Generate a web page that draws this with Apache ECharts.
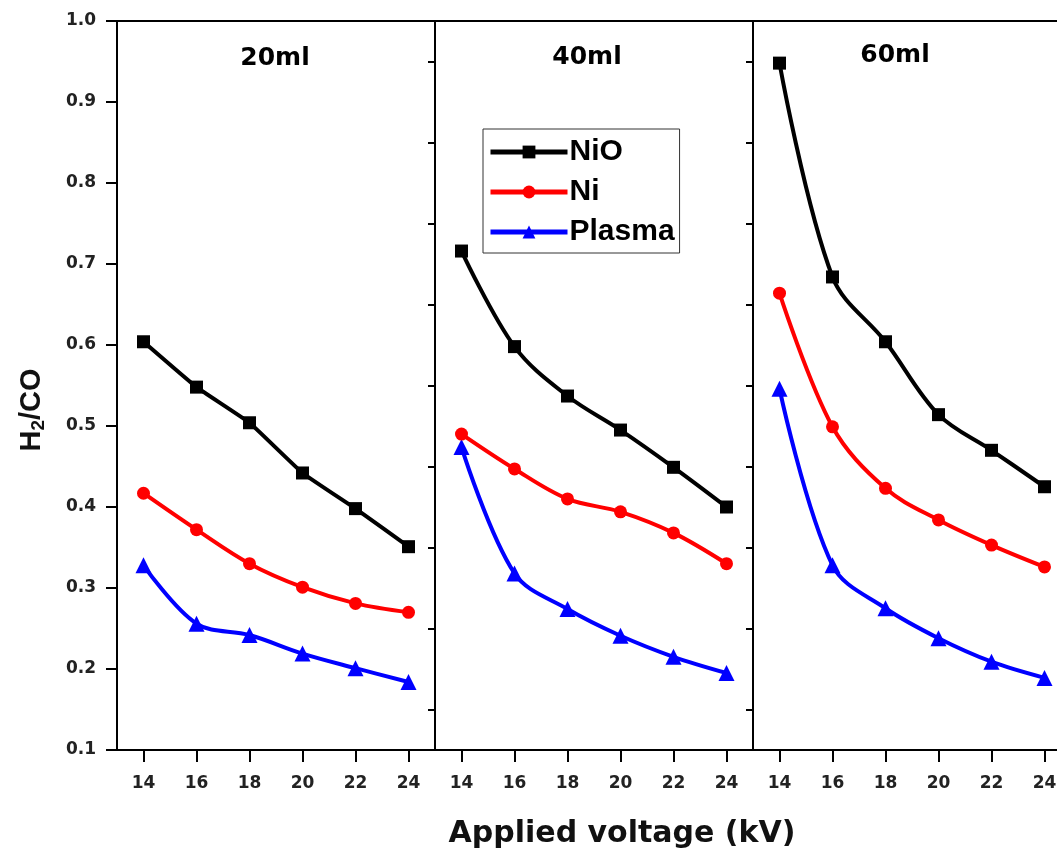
<!DOCTYPE html>
<html>
<head>
<meta charset="utf-8">
<script src="https://cdn.jsdelivr.net/npm/echarts@6/dist/echarts.min.js"></script>
<style>
  html, body { margin: 0; padding: 0; background: #fff; overflow: hidden; }
  #chart { width: 1057px; height: 849px; }
</style>
</head>
<body>
<div id="chart"></div>
<script>
// ---- data ----
const voltages = [14, 16, 18, 20, 22, 24];
const panelTitles = ['20ml', '40ml', '60ml'];
const seriesNames = ['NiO', 'Ni', 'Plasma'];

const nio20 = [0.604, 0.548, 0.504, 0.442, 0.398, 0.351];
const ni20 = [0.417, 0.372, 0.330, 0.301, 0.281, 0.270];
const plasma20 = [0.328, 0.256, 0.242, 0.219, 0.201, 0.184];

const nio40 = [0.716, 0.598, 0.537, 0.495, 0.449, 0.400];
const ni40 = [0.490, 0.447, 0.410, 0.394, 0.368, 0.330];
const plasma40 = [0.474, 0.318, 0.274, 0.241, 0.215, 0.195];

const nio60 = [0.948, 0.684, 0.604, 0.514, 0.470, 0.425];
const ni60 = [0.664, 0.499, 0.423, 0.384, 0.353, 0.326];
const plasma60 = [0.546, 0.328, 0.275, 0.238, 0.209, 0.189];

const xTicks = [14, 16, 18, 20, 22, 24];
const yTicksRight = [0.15, 0.25, 0.35, 0.45, 0.55, 0.65, 0.75, 0.85, 0.95];

// ---- build ----
const FONT = 'Liberation Sans, Arial, sans-serif';
const WIDE = 'DejaVu Sans, sans-serif';
const panels = [
  [nio20, ni20, plasma20],
  [nio40, ni40, plasma40],
  [nio60, ni60, plasma60]
];
const colors = ['#000000', '#ff0000', '#0000ff'];
const symbols = ['rect', 'circle', 'triangle'];
const symbolSizes = [13, 13, 16];

const PW = 318, L0 = 117, TOP = 21, H = 729;

const grids = [], xAxes = [], yAxes = [], series = [];
for (let i = 0; i < 3; i++) {
  grids.push({ left: L0 + i * PW, top: TOP, width: PW, height: H,
    outerBoundsMode: 'none', containLabel: false,
    show: true, borderColor: '#000', borderWidth: 2, backgroundColor: 'transparent' });
  xAxes.push({
    gridIndex: i, type: 'value', min: 13, max: 25,
    axisLine: { show: true, onZero: false, lineStyle: { color: '#000', width: 2 } },
    axisTick: { show: true, customValues: xTicks, length: 12, lineStyle: { color: '#000', width: 2 } },
    axisLabel: { customValues: xTicks, margin: 25, fontSize: 17, fontWeight: 'bold', color: '#222', fontFamily: WIDE },
    splitLine: { show: false }
  });
}
for (let i = 0; i < 3; i++) {
  yAxes.push({
    gridIndex: i, type: 'value', min: 0.1, max: 1.0, interval: 0.1, position: 'left',
    axisLine: { show: true, onZero: false, lineStyle: { color: '#000', width: 2 } },
    axisTick: { show: i === 0, length: 11, lineStyle: { color: '#000', width: 2 } },
    axisLabel: { show: i === 0, margin: 21, fontSize: 17, fontWeight: 'bold', color: '#222', fontFamily: WIDE,
      formatter: v => v.toFixed(1) },
    splitLine: { show: false }
  });
}
for (let i = 0; i < 3; i++) {
  yAxes.push({
    gridIndex: i, type: 'value', min: 0.1, max: 1.0, position: 'right',
    axisLine: { show: true, onZero: false, lineStyle: { color: '#000', width: 2 } },
    axisTick: { show: true, inside: true, length: 7, customValues: yTicksRight, lineStyle: { color: '#000', width: 2 } },
    axisLabel: { show: false },
    splitLine: { show: false }
  });
}
for (let i = 0; i < 3; i++) {
  for (let s = 0; s < 3; s++) {
    series.push({
      name: seriesNames[s], type: 'line', xAxisIndex: i, yAxisIndex: i,
      data: voltages.map((v, k) => [v, panels[i][s][k]]),
      smooth: (i === 0 && s === 0) ? 0.1 : 0.35,
      symbol: symbols[s], symbolSize: symbolSizes[s],
      lineStyle: { color: colors[s], width: 4 },
      itemStyle: { color: colors[s] },
      z: 5 - s
    });
  }
}

const option = {
  backgroundColor: '#fff',
  animation: false,
  grid: grids, xAxis: xAxes, yAxis: yAxes, series: series,
  legend: {
    data: seriesNames, orient: 'vertical', left: 483, top: 129,
    itemWidth: 77, itemHeight: 16, itemGap: 10,
    borderColor: '#333', borderWidth: 1, padding: [8, 5, 6, 5],
    backgroundColor: '#fff',
    lineStyle: { width: 5 },
    textStyle: { fontSize: 30, fontWeight: 'bold', color: '#000', fontFamily: FONT, padding: [0, 0, 0, -3] }
  },
  graphic: [
    { type: 'text', x: 275, y: 58, style: { text: panelTitles[0], font: 'bold 25px ' + WIDE, fill: '#000', align: 'center', verticalAlign: 'middle' } },
    { type: 'text', x: 587, y: 57, style: { text: panelTitles[1], font: 'bold 25px ' + WIDE, fill: '#000', align: 'center', verticalAlign: 'middle' } },
    { type: 'text', x: 895, y: 55, style: { text: panelTitles[2], font: 'bold 25px ' + WIDE, fill: '#000', align: 'center', verticalAlign: 'middle' } },
    { type: 'text', x: 622, y: 834, style: { text: 'Applied voltage (kV)', font: 'bold 30px ' + WIDE, fill: '#111', align: 'center', verticalAlign: 'middle' } },
    { type: 'text', x: 32, y: 410, rotation: Math.PI / 2,
      style: { text: '{a|H}{s|2}{a|/CO}', align: 'center', verticalAlign: 'middle',
        rich: { a: { font: 'bold 29px ' + FONT, fill: '#111' },
                s: { font: 'bold 19px ' + FONT, fill: '#111', padding: [14, 0, 0, 0] } } } }
  ]
};

const chart = echarts.init(document.getElementById('chart'), null, { renderer: 'canvas' });
chart.setOption(option);
</script>
</body>
</html>
